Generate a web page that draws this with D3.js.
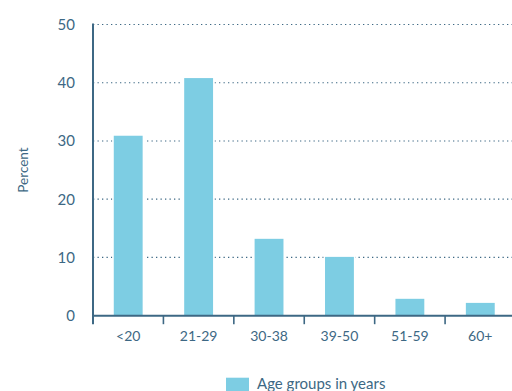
<!DOCTYPE html>
<html><head><meta charset="utf-8">
<script src="https://cdn.jsdelivr.net/npm/d3@7"></script>
<style>body{margin:0;background:#fff;} svg{display:block;}</style>
</head><body><svg id="c" width="512" height="391"></svg>
<script>
const categories = ["<20","21-29","30-38","39-50","51-59","60+"];
const values = [30.9, 40.8, 13.2, 10.1, 2.9, 2.2];
const yTicks = [0,10,20,30,40,50];
const seriesName = "Age groups in years";
const yTitle = "Percent";

const ink = "#3d6884", barColor = "#7dcde3";
const font = "Lato, sans-serif";
const svg = d3.select("#c");
const m = {left: 93, top: 24.5, bottom: 315.7};
const x = d3.scaleBand().domain(categories).range([m.left, 515.5]).paddingInner(0.59).paddingOuter(0.295);
const xb = d3.scaleBand().domain(categories).range([m.left, 515.5]);
const y = d3.scaleLinear().domain([0,50]).range([m.bottom, m.top]);

// gridlines
svg.append("g").selectAll("line").data(yTicks.filter(d=>d>0)).join("line")
  .attr("x1", m.left).attr("x2", 512).attr("y1", d=>y(d)).attr("y2", d=>y(d))
  .attr("stroke", ink).attr("stroke-width", 1.2).attr("stroke-dasharray", "1.3,3.2");

// bars with white halo
svg.append("g").selectAll("rect").data(values).join("rect")
  .attr("x", (d,i)=>x(categories[i])).attr("width", x.bandwidth())
  .attr("y", d=>y(d)).attr("height", d=>m.bottom - y(d))
  .attr("fill", barColor).attr("stroke", "#fff").attr("stroke-width", 3);
svg.append("g").selectAll("rect").data(values).join("rect")
  .attr("x", (d,i)=>x(categories[i])).attr("width", x.bandwidth())
  .attr("y", d=>y(d)).attr("height", d=>m.bottom - y(d))
  .attr("fill", barColor);

// y axis
const ya = svg.append("g").attr("transform", `translate(${m.left},0)`)
  .call(d3.axisLeft(y).tickValues(yTicks).tickSize(0).tickPadding(18));
ya.select(".domain").remove();
ya.selectAll("text").attr("font-family", font).attr("font-size", 15).attr("fill", ink);
svg.append("line").attr("x1", m.left).attr("x2", m.left).attr("y1", m.top - 1).attr("y2", m.bottom + 8.5)
  .attr("stroke", ink).attr("stroke-width", 2);

// x axis
const xa = svg.append("g").attr("transform", `translate(0,${m.bottom})`)
  .call(d3.axisBottom(x).tickSize(0).tickPadding(15));
xa.select(".domain").remove();
xa.selectAll("text").attr("font-family", font).attr("font-size", 14).attr("fill", ink);
svg.append("line").attr("x1", m.left).attr("x2", 512).attr("y1", m.bottom).attr("y2", m.bottom)
  .attr("stroke", ink).attr("stroke-width", 2);
svg.append("g").selectAll("line").data(categories.slice(1)).join("line")
  .attr("x1", d=>xb(d)).attr("x2", d=>xb(d)).attr("y1", m.bottom).attr("y2", m.bottom + 8.5)
  .attr("stroke", ink).attr("stroke-width", 1.6);

// y title
svg.append("text").attr("transform", "translate(27.5,170) rotate(-90)")
  .attr("text-anchor", "middle").attr("font-family", font).attr("font-size", 13.5).attr("fill", ink).text(yTitle);

// legend
svg.append("rect").attr("x", 226).attr("y", 377.7).attr("width", 23).attr("height", 14).attr("fill", barColor);
svg.append("text").attr("x", 257).attr("y", 389).attr("font-family", font).attr("font-size", 15).attr("fill", ink).text(seriesName);
</script></body></html>
